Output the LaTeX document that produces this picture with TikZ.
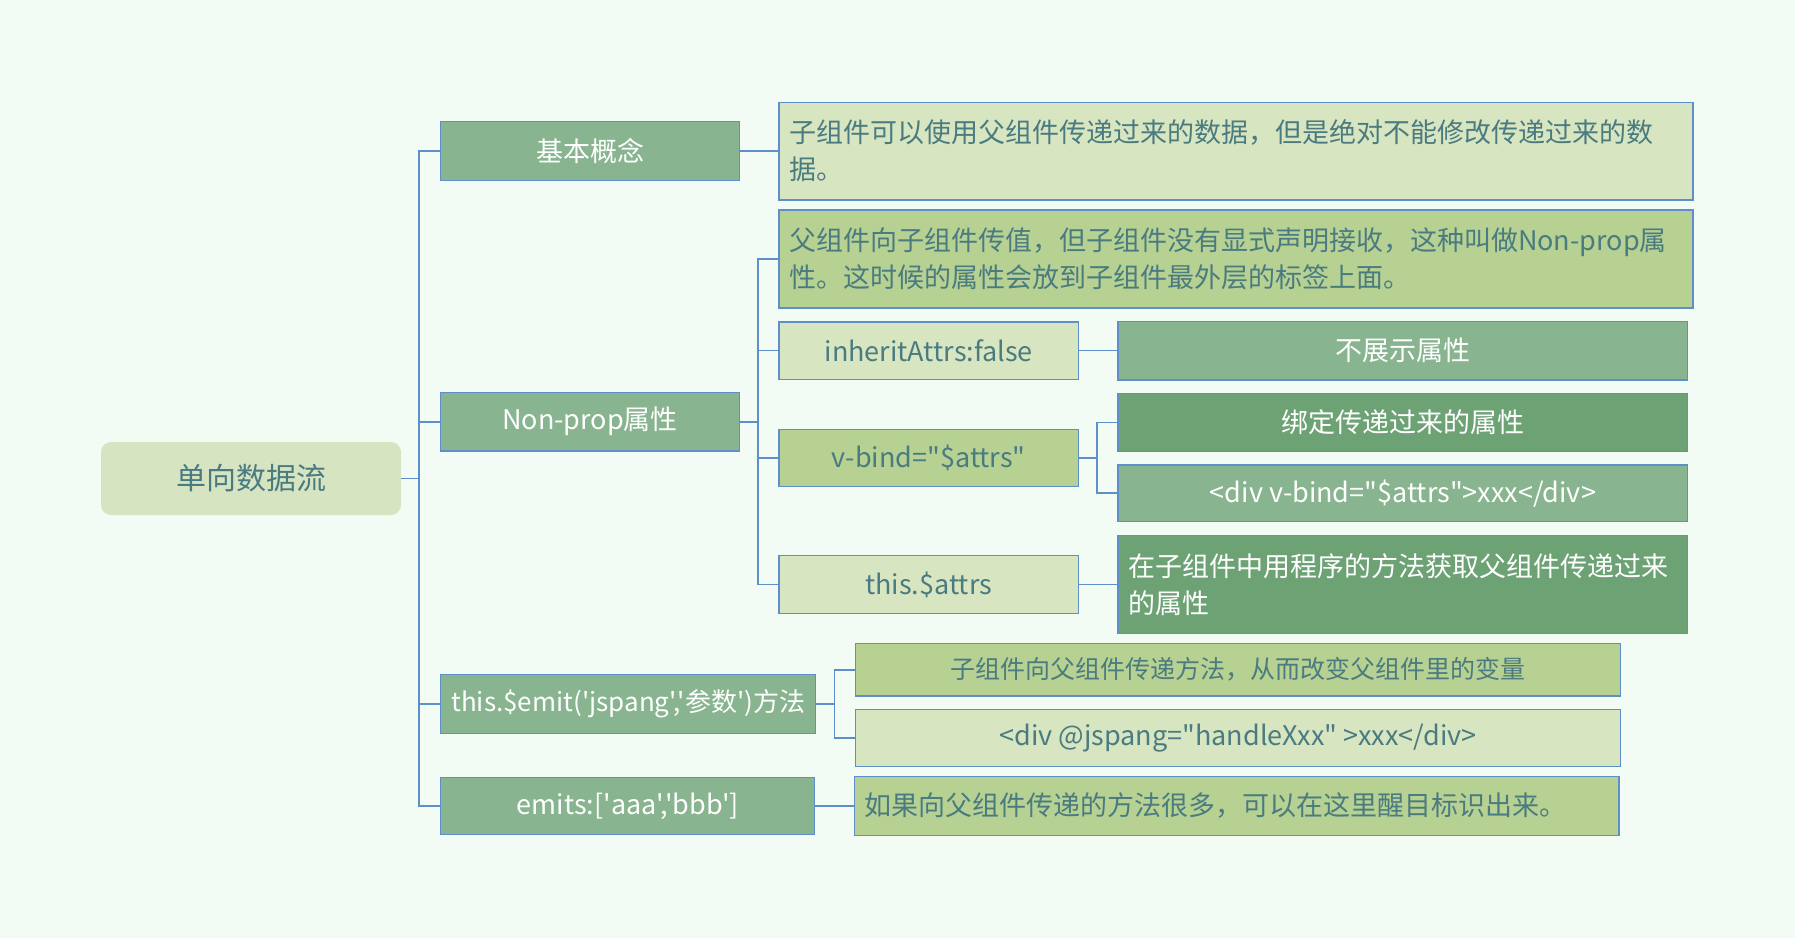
\documentclass[tikz,border=0pt]{standalone}
\usepackage{fontspec}
\usepackage{xcolor}
\usetikzlibrary{calc}
\newfontfamily\zhfont{Noto Sans CJK SC}
\definecolor{bgmint}{HTML}{F2FCF4}
\definecolor{linkblue}{HTML}{5D8FCA}
\definecolor{rootfill}{HTML}{D6E4C2}
\definecolor{palefill}{HTML}{D7E5C1}
\definecolor{olivefill}{HTML}{B6D192}
\definecolor{greenfill}{HTML}{88B490}
\definecolor{deepfill}{HTML}{6DA275}
\definecolor{tealtext}{HTML}{4A7B80}
\tikzset{
  link/.style={draw=linkblue, line width=1.8pt},
  leaf/.style={draw=linkblue, line width=1.3pt, inner sep=0pt, align=center,
    font=\zhfont\fontsize{27}{37}\selectfont},
  greenbox/.style={leaf, fill=greenfill, text=white},
  deepbox/.style={leaf, fill=deepfill, text=white},
  olivebox/.style={leaf, fill=olivefill, text=tealtext},
  palebox/.style={leaf, fill=palefill, text=tealtext},
  wrapped/.style={align=left, inner xsep=10pt},
}
\begin{document}
\begin{tikzpicture}[x=1pt, y=-1pt]
    \fill[bgmint] (0,0) rectangle (1795,938);
    \useasboundingbox (0,0) rectangle (1795,938);
    % root
    \node[fill=rootfill, rounded corners=10pt, minimum width=300pt, minimum height=73pt,
      inner sep=0pt, text=tealtext, font=\zhfont\fontsize{30}{36}\selectfont]
      (root) at (251,478.5) {单向数据流};
    % first level
    \node[greenbox, minimum width=299pt, minimum height=59pt] (basic) at (590,151) {基本概念};
    \node[greenbox, minimum width=299pt, minimum height=58.5pt] (nonprop) at (590,421.7) {Non-prop属性};
    \node[greenbox, minimum width=375pt, minimum height=59pt, font=\zhfont\fontsize{26}{32}\selectfont]
      (emit) at (628.3,703.7) {this.\$emit('jspang','参数')方法};
    \node[greenbox, minimum width=374pt, minimum height=57pt] (emits) at (627.8,806) {emits:['aaa','bbb']};
    % second level
    \node[palebox, wrapped, text width=894pt, minimum height=97.7pt] (d1) at (1236,151)
      {子组件可以使用父组件传递过来的数据，但是绝对不能修改传递过来的数\\据。};
    \node[olivebox, wrapped, text width=894pt, minimum height=98pt] (p1) at (1236,259)
      {父组件向子组件传值，但子组件没有显式声明接收，这种叫做Non-prop属\\性。这时候的属性会放到子组件最外层的标签上面。};
    \node[palebox, minimum width=299.5pt, minimum height=57.3pt] (p2) at (928.7,350.5) {inheritAttrs:false};
    \node[olivebox, minimum width=299.5pt, minimum height=57.4pt] (p3) at (928.7,458) {v-bind="\$attrs"};
    \node[palebox, minimum width=299.5pt, minimum height=57.6pt] (p4) at (928.7,584.5) {this.\$attrs};
    \node[olivebox, minimum width=765pt, minimum height=52.7pt, font=\zhfont\fontsize{25}{30}\selectfont]
      (e1) at (1238,669.7) {子组件向父组件传递方法，从而改变父组件里的变量};
    \node[palebox, minimum width=765pt, minimum height=57.4pt] (e2) at (1238,738) {<div @jspang="handleXxx" >xxx</div>};
    \node[olivebox, wrapped, text width=744.7pt, minimum height=58.6pt] (m1) at (1236.7,806)
      {如果向父组件传递的方法很多，可以在这里醒目标识出来。};
    % third level
    \node[greenbox, minimum width=569.7pt, minimum height=58.7pt] (q1) at (1402.9,350.5) {不展示属性};
    \node[deepbox, minimum width=569.7pt, minimum height=58.4pt] (q2) at (1402.9,422.5) {绑定传递过来的属性};
    \node[greenbox, minimum width=569.7pt, minimum height=56.7pt] (q3) at (1402.9,493.3) {<div v-bind="\$attrs">xxx</div>};
    \node[deepbox, wrapped, text width=549.7pt, minimum height=98pt] (q4) at (1402.9,584.5)
      {在子组件中用程序的方法获取父组件传递过来\\的属性};
    % connectors
    \coordinate (trunk) at (419,0);
    \coordinate (bar2) at (757.7,0);
    \coordinate (bar3) at (1097,0);
    \coordinate (bar4) at (834.4,0);
    \draw[link] (root.east) -- (root.east -| trunk) |- (basic.west);
    \draw[link] (root.east -| trunk) |- (nonprop.west);
    \draw[link] (root.east -| trunk) |- (emit.west);
    \draw[link] (root.east -| trunk) |- (emits.west);
    \draw[link] (basic.east)--(d1.west);
    \draw[link] (nonprop.east) -- (nonprop.east -| bar2) |- (p1.west);
    \draw[link] (nonprop.east -| bar2) |- (p2.west);
    \draw[link] (nonprop.east -| bar2) |- (p3.west);
    \draw[link] (nonprop.east -| bar2) |- (p4.west);
    \draw[link] (p2.east)--(q1.west);
    \draw[link] (p3.east) -- (p3.east -| bar3) |- (q2.west);
    \draw[link] (p3.east -| bar3) |- (q3.west);
    \draw[link] (p4.east)--(q4.west);
    \draw[link] (emit.east) -- (emit.east -| bar4) |- (e1.west);
    \draw[link] (emit.east -| bar4) |- (e2.west);
    \draw[link] (emits.east)--(m1.west);
\end{tikzpicture}
\end{document}
